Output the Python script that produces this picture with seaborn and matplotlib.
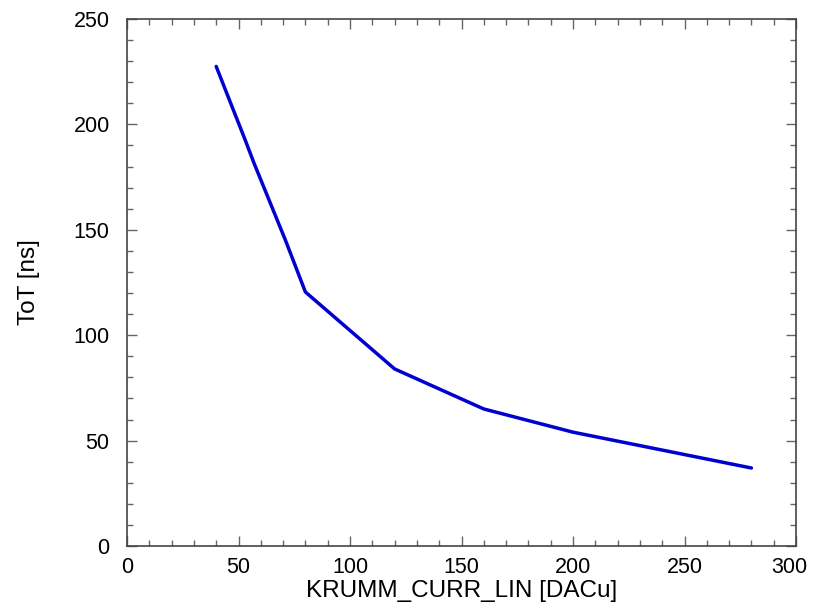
import numpy as np
import pandas as pd
import seaborn as sb
from matplotlib import pyplot as plt
from matplotlib.ticker import MultipleLocator
from matplotlib.transforms import ScaledTranslation

# values
krumm = [40, 53, 57, 71, 80, 120, 160, 200, 280]
tot = [227.5, 192.6, 181.5, 145.2, 120.5, 84, 65, 54, 37]

sb.set_style("ticks")
plt.rcParams['font.family'] = ['Liberation Sans', 'DejaVu Sans']

df = pd.DataFrame({"krumm": krumm, "tot": tot})

fig = plt.figure(figsize=(8.13, 6.13), dpi=100)
ax = fig.add_axes([127/813, 1-546/613, (796-127)/813, (546-19)/613])
sb.lineplot(x="krumm", y="tot", data=df, ax=ax, color="#0000d0", linewidth=2.5, sort=False)

ax.set_xlim(0, 300)
ax.set_ylim(0, 250)
ax.xaxis.set_major_locator(MultipleLocator(50))
ax.xaxis.set_minor_locator(MultipleLocator(10))
ax.yaxis.set_major_locator(MultipleLocator(50))
ax.yaxis.set_minor_locator(MultipleLocator(10))
ax.tick_params(which="both", direction="in", top=True, right=True, color="#666666", labelsize=15.5, labelcolor="black")
ax.tick_params(which="major", length=7.5, width=1)
ax.tick_params(which="minor", length=4, width=1)
ax.tick_params(axis="x", which="major", pad=8)
ax.tick_params(axis="y", which="major", pad=12.5)
for s in ax.spines.values():
	s.set_color("#444444")
	s.set_linewidth(1.2)

ax.set_xlabel("KRUMM_CURR_LIN [DACu]", fontsize=17.5, labelpad=1, color="black")
ax.set_ylabel("ToT [ns]", fontsize=17.5, labelpad=24, color="black")

# the last x label sits a bit left in the reference so it fits
fig.canvas.draw()
for lab in ax.get_xticklabels():
	if lab.get_text() == "300":
		lab.set_transform(lab.get_transform() + ScaledTranslation(-0.065, 0, fig.dpi_scale_trans))

fig.savefig("out.png", dpi=100)
